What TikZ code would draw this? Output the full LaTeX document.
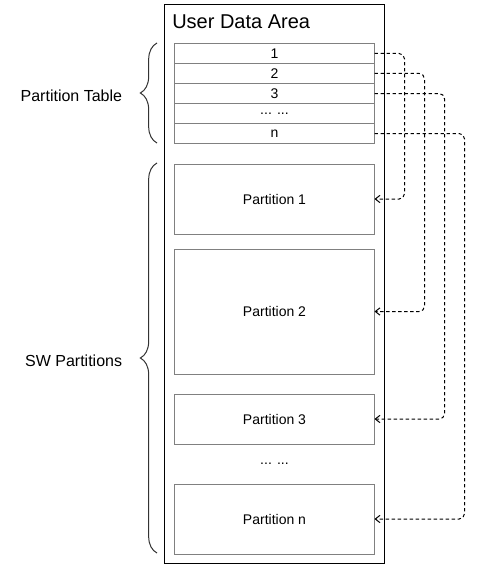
\documentclass[tikz,border=0pt]{standalone}
\usepackage{fontspec}
\setmainfont{Liberation Sans}
\usetikzlibrary{matrix,positioning,arrows.meta,decorations.pathreplacing}

\begin{document}
\begin{tikzpicture}[
    x=0.75pt, y=-0.75pt,
    area/.style={draw=black, line width=0.75pt, inner sep=0pt, outer sep=0pt},
    row/.style={draw=black!50, line width=0.75pt, minimum width=150pt, minimum height=15pt, inner sep=0pt, outer sep=0pt, font=\fontsize{10.5}{12}\selectfont},
    part/.style={row},
    label/.style={font=\fontsize{12}{14}\selectfont, inner sep=0pt, yshift=-2pt},
    curly/.style={draw=black!80, line width=0.75pt, decorate, decoration={brace, amplitude=12.5pt}},
    link/.style={draw=black, line width=0.75pt, dash pattern=on 2.5pt off 2pt, rounded corners=4pt, -{Straight Barb[length=3.5pt, width=5.5pt]}}
]
\useasboundingbox (0,0) rectangle (476,567);

% Outer area
\node[area, minimum width=165pt, minimum height=418.5pt, anchor=north west] (udata) at (164,5) {};
\node[anchor=base west, inner sep=0pt, font=\fontsize{15}{18}\selectfont] (title) at (172,29) {User Data Area};

% Partition table
\matrix (tab) [matrix of nodes, nodes={row}, row sep=-0.75pt, inner sep=0pt, outer sep=0pt, anchor=north west] at (174,43) {
    1 \\
    2 \\
    3 \\
    ... ... \\
    n \\
};

% SW partitions
\node[part, minimum height=52.5pt, below=15pt of tab] (p1) {Partition 1};
\node[part, minimum height=93.75pt, below=11.25pt of p1] (p2) {Partition 2};
\node[part, minimum height=37.5pt, below=15pt of p2] (p3) {Partition 3};
\node[part, minimum height=52.5pt, below=30pt of p3] (pn) {Partition n};
\path (p3.south) -- (pn.north) node[midway, font=\fontsize{10.5}{12}\selectfont] (dots) {... ...};

% Braces
\draw[curly] (157,143) -- (157,43) coordinate[midway] (tbmid);
\draw[curly] (157,553) -- (157,163) coordinate[midway] (swmid);
\node[label, left=26pt of tbmid] (tblabel) {Partition Table};
\node[label, left=26pt of swmid] (swlabel) {SW Partitions};

% Links from table entries to partitions
\draw[link] (tab-1-1.east) -- ++(30,0) |- (p1.east);
\draw[link] (tab-2-1.east) -- ++(50,0) |- (p2.east);
\draw[link] (tab-3-1.east) -- ++(70,0) |- (p3.east);
\draw[link] (tab-5-1.east) -- ++(90,0) |- (pn.east);

\end{tikzpicture}
\end{document}
